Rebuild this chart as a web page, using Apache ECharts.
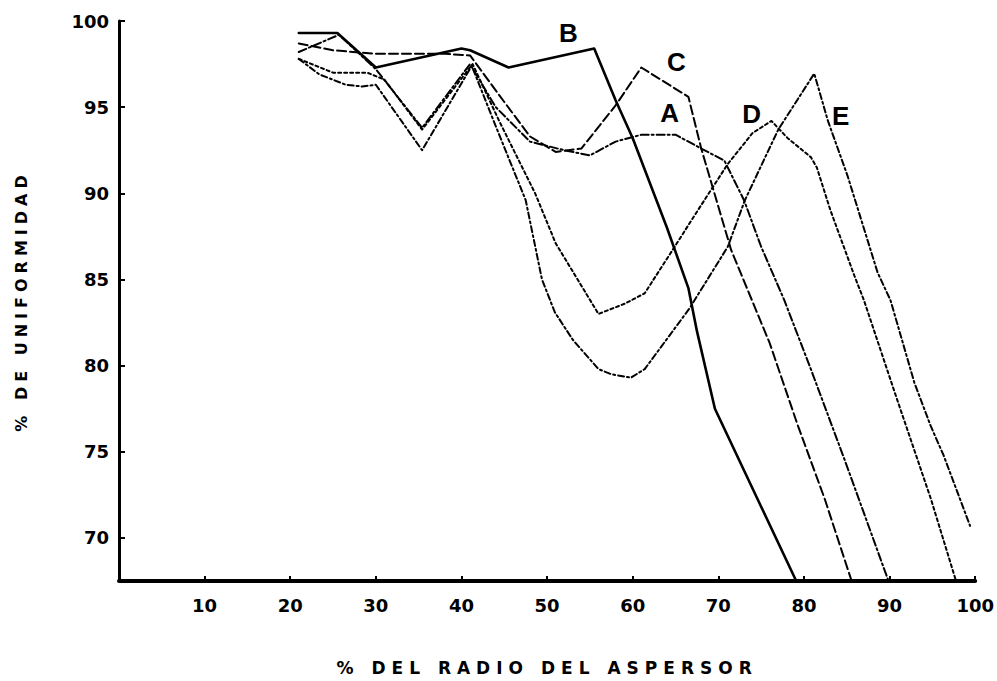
<!DOCTYPE html>
<html>
<head>
<meta charset="utf-8">
<script src="https://cdn.jsdelivr.net/npm/echarts@6.0.0/dist/echarts.min.js"></script>
<style>
  html, body { margin: 0; padding: 0; background: #ffffff; }
  #chart { width: 997px; height: 681px; }
</style>
</head>
<body>
<div id="chart"></div>
<script>
// Uniformity (%) versus distance as % of sprinkler radius, five sprinklers A–E
const xTicks = [10, 20, 30, 40, 50, 60, 70, 80, 90, 100];
const yTicks = [70, 75, 80, 85, 90, 95, 100];

const curveA = [[21,98.2],[25.7,99.2],[30,97.2],[35.4,93.8],[41,97.5],[44,95],[48,93],[52,92.5],[55,92.2],[58,93],[61,93.4],[65,93.4],[68,92.6],[70.7,91.9],[73,89.6],[75,86.9],[77.7,83.8],[80.8,79.8],[84.7,74.6],[89.8,67.6]];
const curveB = [[21,99.3],[25.5,99.3],[30,97.3],[40,98.4],[41,98.3],[45.5,97.3],[55.5,98.4],[58,95.4],[60,93.2],[64,88],[66.5,84.5],[67.5,82],[69.6,77.5],[79,67.6]];
const curveC = [[21,98.7],[25,98.3],[30,98.1],[38,98.1],[41,98],[45,95.3],[48,93.3],[51,92.4],[54,92.6],[58,95.1],[61,97.3],[66.5,95.6],[68,92.6],[71.5,86.7],[76,81.3],[79.3,76.5],[82.4,72.3],[85.5,67.6]];
const curveD = [[21,97.8],[25,97],[29,97],[31,96.6],[35.4,93.7],[41.3,97.5],[44.4,94.2],[48.6,90],[51,87.1],[56,83],[59.1,83.6],[61.4,84.2],[64.9,86.9],[67.2,88.7],[71.1,91.7],[74,93.5],[76.2,94.2],[78.1,93.2],[80.8,92.1],[81.5,91.5],[83.1,89],[85.9,85.2],[87,83.8],[90.9,78],[94.8,72.3],[97.7,67.6]];
const curveE = [[21,97.8],[23.4,96.9],[26.5,96.3],[28.4,96.2],[30,96.3],[35.4,92.5],[41.2,97.4],[44,93.9],[47.5,89.6],[49.4,85],[50.9,83.1],[53,81.5],[56,79.8],[57.5,79.5],[59.8,79.3],[61.4,79.8],[66.6,83.3],[71.1,86.9],[73.1,89.6],[77,93.7],[81.2,96.95],[82.8,94.2],[85.1,91],[88.6,85.4],[90.1,83.8],[92.9,79],[94.8,76.5],[96.3,74.8],[99.4,70.7]];

// Curve letters, placed in data coordinates next to each curve
const curveLetters = [
  { name: 'B', value: [52.5, 99.3] },
  { name: 'C', value: [65.1, 97.6] },
  { name: 'A', value: [64.3, 94.65] },
  { name: 'D', value: [73.9, 94.6] },
  { name: 'E', value: [84.3, 94.5] }
];

const xTitle = '% DEL RADIO DEL ASPERSOR';
const yTitle = '% DE UNIFORMIDAD';

const ink = '#000000';
const tickFont = { color: ink, fontFamily: 'DejaVu Sans', fontSize: 18, fontWeight: 'bold' };

function curve(name, data, width, dash) {
  return {
    name: name,
    type: 'line',
    data: data,
    symbol: 'none',
    smooth: false,
    lineStyle: { color: ink, width: width, type: dash, cap: 'round', join: 'round' },
    z: 3
  };
}

const chart = echarts.init(document.getElementById('chart'), null, { renderer: 'svg' });
chart.setOption({
  backgroundColor: '#ffffff',
  animation: false,
  grid: { left: 119, right: 19, top: 21, bottom: 99 },
  xAxis: {
    type: 'value',
    min: 0,
    max: 100,
    name: xTitle,
    nameLocation: 'middle',
    nameGap: 78,
    nameTextStyle: { color: ink, fontFamily: 'DejaVu Sans', fontSize: 17, fontWeight: 'bold' },
    axisLine: { show: true, onZero: false, lineStyle: { color: ink, width: 4 } },
    axisTick: { show: true, inside: true, length: 5, customValues: xTicks, lineStyle: { color: ink, width: 2 } },
    axisLabel: Object.assign({ margin: 15, customValues: xTicks }, tickFont),
    splitLine: { show: false }
  },
  yAxis: {
    type: 'value',
    min: 67.5,
    max: 100,
    name: yTitle,
    nameLocation: 'middle',
    nameRotate: 90,
    nameGap: 90,
    nameTextStyle: { color: ink, fontFamily: 'DejaVu Sans', fontSize: 16, fontWeight: 'bold' },
    axisLine: { show: true, onZero: false, lineStyle: { color: ink, width: 3 } },
    axisTick: { show: true, inside: true, length: 6, customValues: yTicks, lineStyle: { color: ink, width: 2 } },
    axisLabel: Object.assign({ margin: 10, customValues: yTicks }, tickFont),
    splitLine: { show: false }
  },
  series: [
    curve('B', curveB, 2.6, 'solid'),
    curve('C', curveC, 2, [9, 4]),
    curve('A', curveA, 2, [8, 3, 2, 3]),
    curve('D', curveD, 2, [3, 3]),
    curve('E', curveE, 2, [6, 3, 2, 3]),
    {
      name: 'letters',
      type: 'scatter',
      data: curveLetters,
      symbolSize: 0,
      itemStyle: { color: ink, opacity: 1 },
      label: {
        show: true,
        position: 'inside',
        formatter: '{b}',
        color: ink,
        opacity: 1,
        fontFamily: 'Liberation Sans',
        fontSize: 26,
        fontWeight: 'bold'
      },
      z: 4
    }
  ]
});

// Spaced lettering for the two axis titles
const titleSpacing = {};
titleSpacing[xTitle] = '6px';
titleSpacing[yTitle] = '5px';
document.querySelectorAll('#chart svg text').forEach(function (t) {
  const s = titleSpacing[t.textContent];
  if (s) t.setAttribute('letter-spacing', s);
});
</script>
</body>
</html>
